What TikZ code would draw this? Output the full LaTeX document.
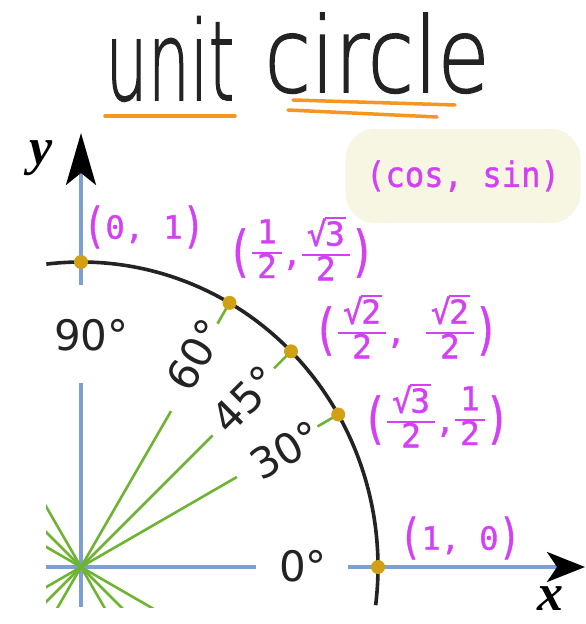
\documentclass[tikz,border=0pt]{standalone}
\usepackage{fontspec}
\usepackage{graphicx}
\usetikzlibrary{arrows.meta}
\setmainfont{DejaVu Sans}
\newfontfamily\monofont[FakeBold=1]{DejaVu Sans Mono}
\newfontfamily\monocs[FakeBold=1,FakeStretch=0.92]{DejaVu Sans Mono}
\newfontfamily\axfont{Liberation Serif}
\IfFontExistsTF{DejaVu Sans ExtraLight}
  {\newfontfamily\titlefont[FakeBold=1.5]{DejaVu Sans ExtraLight}}
  {\IfFontExistsTF{DejaVuSans-ExtraLight.ttf}
     {\newfontfamily\titlefont[FakeBold=1.5]{DejaVuSans-ExtraLight.ttf}}
     {\newfontfamily\titlefont{DejaVu Sans}}}
\definecolor{mag}{RGB}{212,64,245}
\definecolor{gold}{RGB}{210,160,20}
\definecolor{axblue}{RGB}{125,160,210}
\definecolor{grn}{RGB}{110,180,50}
\definecolor{boxfill}{RGB}{246,246,226}
\definecolor{orng}{RGB}{245,150,30}
\definecolor{ink}{RGB}{35,35,35}
\newcommand\lp{\raisebox{-0.105em}{\scalebox{1.15}[1.5]{(}}}
\newcommand\rp{\raisebox{-0.105em}{\scalebox{1.15}[1.5]{)}}}
\newcommand\vlp{\ensuremath{\vcenter{\hbox{\scalebox{1.25}[1.67]{(}}}}}
\newcommand\vrp{\ensuremath{\vcenter{\hbox{\scalebox{1.25}[1.67]{)}}}}}
\newcommand\fr[2]{\ensuremath{\vcenter{\hbox{\setlength\arrayrulewidth{1.5pt}\renewcommand\arraystretch{0.88}\begin{tabular}{@{\hspace{5pt}}c@{\hspace{5pt}}}#1\\\hline #2\end{tabular}}}}}
\newcommand\sq[1]{√\kern-0.05em\rlap{\rule[0.8em]{0.62em}{0.07em}}#1}
\newcommand\cm{\raisebox{-6pt}{,}}
\tikzset{
  axisline/.style={draw=axblue, line width=3.5pt},
  ray/.style={draw=grn, line width=2.6pt},
  dot/.style={circle, fill=gold, inner sep=0pt, minimum size=14pt},
  coordlabel/.style={text=mag, font=\monofont\fontsize{32}{32}\selectfont},
  cslabel/.style={text=mag, font=\monocs\fontsize{35}{35}\selectfont},
  fraclabel/.style={text=mag, font=\monofont\fontsize{33}{33}\selectfont, inner sep=1pt},
  anglabel/.style={text=ink, font=\fontsize{42}{42}\selectfont, inner sep=0pt},
  axlabel/.style={font=\axfont\bfseries\itshape\fontsize{52}{52}\selectfont, inner sep=0pt},
  titletext/.style={text=ink, anchor=base, inner sep=0pt},
  underline/.style={draw=orng, line width=3.5pt, line cap=round},
}
\begin{document}
\begin{tikzpicture}[x=1pt,y=-1pt]
\useasboundingbox[fill=white] (0,0) rectangle (586,624);
\coordinate (O) at (81,567);
% title
\node[titletext, font=\titlefont\fontsize{110}{110}\selectfont] (tu) at (170,100) {\resizebox{129pt}{\height}{unit}};
\node[titletext, font=\titlefont\fontsize{104}{104}\selectfont] (tc) at (377,92) {\resizebox{225pt}{\height}{circle}};
\coordinate (u1) at (105,116); \coordinate (u2) at (235,116);
\coordinate (c1) at (293,100); \coordinate (c2) at (455,105);
\coordinate (c3) at (288,110); \coordinate (c4) at (437,117);
\draw[underline] (u1) -- (u2);
\draw[underline] (c1) -- (c2);
\draw[underline] (c3) -- (c4);
% box
\node[fill=boxfill, rounded corners=30pt, minimum width=235pt, minimum height=94pt, cslabel] (cs) at (463,176) {(cos, sin)};
% axes
\coordinate (xl) at (46,567); \coordinate (xg1) at (256,567);
\coordinate (xg2) at (348,567); \coordinate (xt) at (585,567);
\coordinate (yb) at (81,607); \coordinate (yg1) at (81,383);
\coordinate (yg2) at (81,285); \coordinate (yt) at (81,133);
\draw[axisline] (xl) -- (xg1);
\draw[axisline, -{Stealth[length=38pt,width=30pt,inset=10pt,color=black]}] (xg2) -- (xt);
\draw[axisline] (yb) -- (yg1);
\draw[axisline, -{Stealth[length=52pt,width=30pt,inset=12pt,color=black]}] (yg2) -- (yt);
% green rays
\begin{scope}
\clip (46,0) rectangle (586,607);
\foreach \a/\r in {30/180,45/186,60/180} {
  \draw[ray] (O) -- ++(\a:\r pt);
  \draw[ray] (O) -- ++(\a+180:100pt);
}
\foreach \a in {120,135,150} {
  \draw[ray] (O) -- ++(\a:100pt);
  \draw[ray] (O) -- ++(\a+180:100pt);
}
\end{scope}
% ticks
\foreach \a in {30,45,60} {
  \path (O) ++(\a:297pt and 305pt) coordinate (P\a);
  \path (O) ++(\a:273pt and 281pt) coordinate (T\a);
  \draw[ray] (T\a) -- (P\a);
}
\path (O) ++(0:297pt and 305pt) coordinate (P0);
\path (O) ++(90:297pt and 305pt) coordinate (P90);
% arc
\draw[line width=3.6pt, ink] (O) ++(96.7:297pt and 305pt) arc[start angle=96.7, end angle=-7.2, x radius=297pt, y radius=305pt];
% dots
\foreach \a in {0,30,45,60,90} { \node[dot] (D\a) at (P\a) {}; }
% angle labels
\node[anglabel] (A0) at (303,566) {0°};
\node[anglabel] (A90) at (81,335) {90\rlap{°}};
\node[anglabel, rotate=30] (A30) at (286,450) {30°};
\node[anglabel, rotate=45] (A45) at (245,399) {45°};
\node[anglabel, rotate=60] (A60) at (196,355) {60°};
% coordinate labels
\node[coordlabel] (C90) at (144,227) {\lp0, 1\rp};
\node[coordlabel] (C0) at (460,538) {\lp1, 0\rp};
\node[fraclabel] (C60) at (301,253) {\vlp\fr{1}{2}\cm\fr{\sq{3}}{2}\vrp};
\node[fraclabel] (C45) at (406,331) {\vlp\fr{\sq{2}}{2}\cm\ \fr{\sq{2}}{2}\vrp};
\node[fraclabel] (C30) at (436,420) {\vlp\fr{\sq{3}}{2}\cm\fr{1}{2}\vrp};
% axis labels
\node[axlabel] (ylab) at (41,158) {y};
\node[axlabel] (xlab) at (550,599) {x};
\end{tikzpicture}
\end{document}
